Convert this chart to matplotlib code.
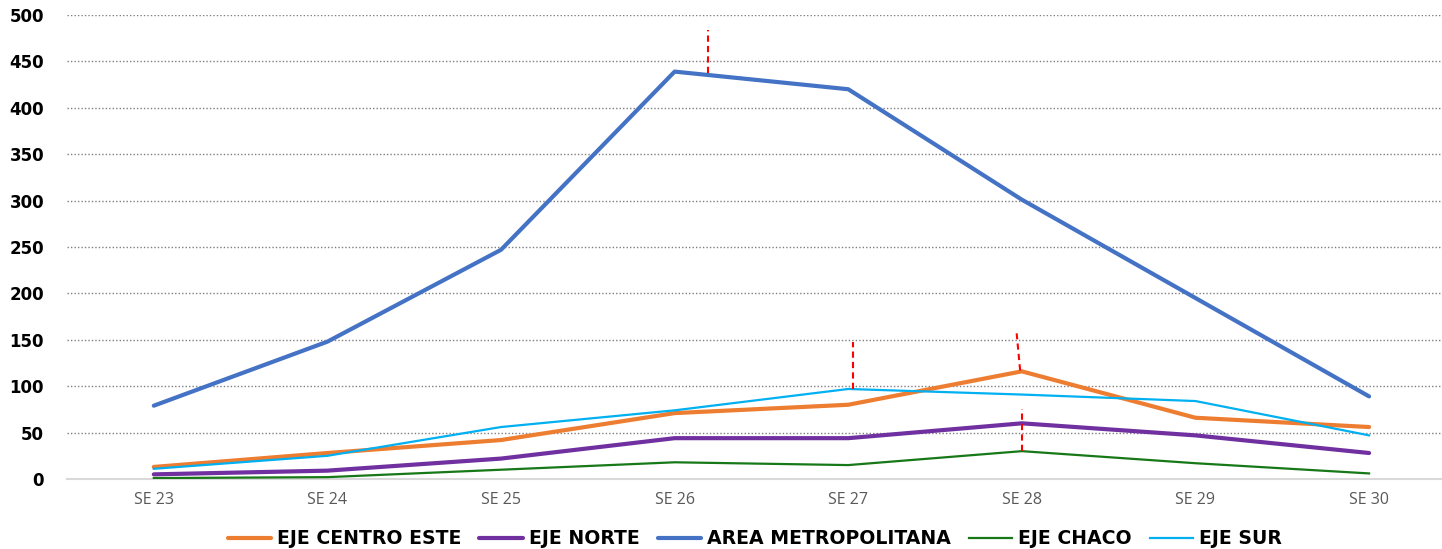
import matplotlib.pyplot as plt
from matplotlib.ticker import MultipleLocator

# semanas epidemiológicas
semanas = ["SE 23", "SE 24", "SE 25", "SE 26", "SE 27", "SE 28", "SE 29", "SE 30"]

centro_este = [13, 28, 42, 71, 80, 116, 66, 56]
norte = [5, 9, 22, 44, 44, 60, 47, 28]
area_metro = [79, 148, 247, 439, 420, 301, 195, 89]
chaco = [1, 2, 10, 18, 15, 30, 17, 6]
sur = [11, 25, 56, 74, 97, 91, 84, 47]

# marcas rojas discontinuas (x, y_inicio, x_fin, y_fin)
marcas = [
    (3.19, 437, 3.19, 484),
    (4.03, 97, 4.03, 148),
    (4.99, 117, 4.97, 157),
    (5.00, 30, 5.00, 75),
]

x = list(range(len(semanas)))

fig = plt.figure(figsize=(14.42, 5.49), dpi=100)
ax = fig.add_axes([67 / 1442, 70 / 549, 1375 / 1442, 464 / 549])

ax.plot(x, centro_este, color="#ED7D31", lw=3, label="EJE CENTRO ESTE", solid_capstyle="round", zorder=3)
ax.plot(x, norte, color="#7030A0", lw=3, label="EJE NORTE", solid_capstyle="round", zorder=3)
ax.plot(x, area_metro, color="#4472C4", lw=3, label="AREA METROPOLITANA", solid_capstyle="round", zorder=3)
ax.plot(x, chaco, color="#177817", lw=1.6, label="EJE CHACO", zorder=3)
ax.plot(x, sur, color="#00B0F0", lw=1.6, label="EJE SUR", zorder=3)

for x0, y0, x1, y1 in marcas:
    ax.plot([x0, x1], [y0, y1], color="red", lw=1.5, ls=(0, (3, 2)), zorder=4)

ax.set_xlim(-0.5, 7.42)
ax.set_ylim(0, 500)
ax.yaxis.set_major_locator(MultipleLocator(50))
ax.set_xticks(x)
ax.set_xticklabels(semanas, fontsize=11.5, color="#595959", family="Open Sans")
for lbl in ax.get_yticklabels():
    lbl.set_fontweight("bold")
    lbl.set_fontsize(12)
    lbl.set_family("DejaVu Sans")
ax.tick_params(axis="both", length=0)
ax.tick_params(axis="x", pad=9)
ax.tick_params(axis="y", pad=16.5)

ax.grid(axis="y", ls=(0, (1, 1.5)), color="#7F7F7F", lw=1)
ax.set_axisbelow(True)
for s in ["top", "right", "left"]:
    ax.spines[s].set_visible(False)
ax.spines["bottom"].set_color("#D9D9D9")
ax.spines["bottom"].set_linewidth(1.5)

fig.legend(loc="center", bbox_to_anchor=(755 / 1442, 1 - 539 / 549), ncol=5, frameon=False,
           prop={"family": "DejaVu Sans", "weight": "bold", "size": 13.6},
           handlelength=2.3, handletextpad=0.32, columnspacing=0.95)

fig.savefig("out.png", dpi=100)
